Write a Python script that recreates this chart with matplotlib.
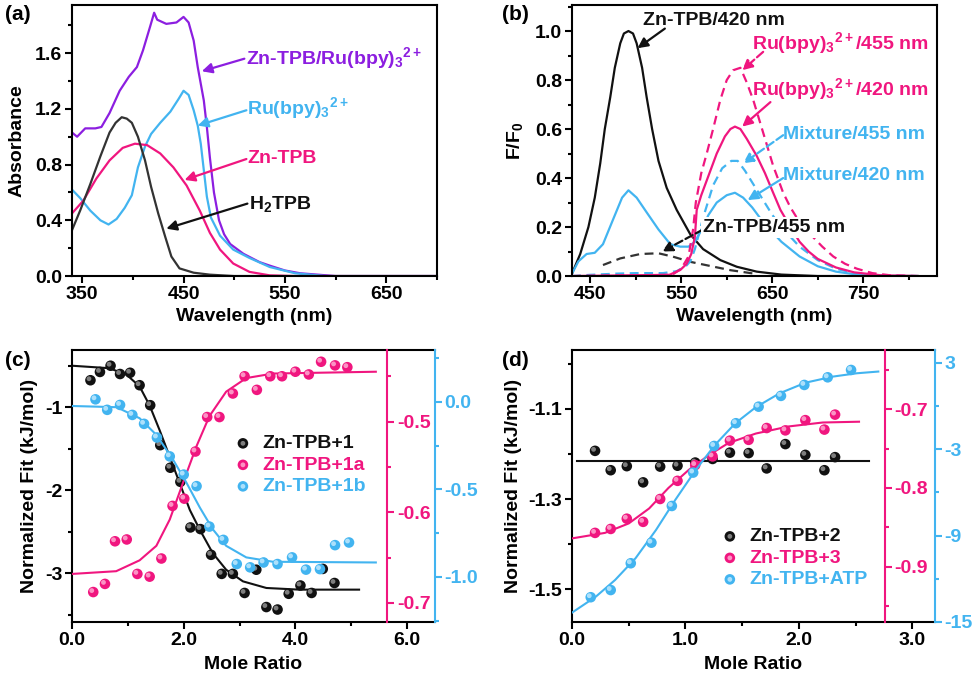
import matplotlib
matplotlib.use('Agg')
import matplotlib.pyplot as plt
import matplotlib.transforms as mtransforms
from matplotlib.ticker import MultipleLocator, FormatStrFormatter
from matplotlib.legend_handler import HandlerTuple

PINK = '#F0167F'
BLUE = '#42B4F0'
PURPLE = '#8C1EE0'
BLACK = '#111111'

# ---- (a) absorbance spectra
wl_h2tpb = [340, 348, 358, 368, 377, 383, 389, 394, 399, 405, 412, 418, 425, 432, 438, 446, 460, 476, 500, 700]
abs_h2tpb = [0.33, 0.47, 0.66, 0.86, 1.03, 1.10, 1.14, 1.13, 1.10, 1.00, 0.83, 0.64, 0.45, 0.28, 0.14, 0.055, 0.024, 0.01, 0.0, 0.0]
wl_zntpb = [340, 351, 364, 377, 390, 402, 414, 427, 440, 453, 466, 476, 486, 499, 515, 535, 560, 700]
abs_zntpb = [0.45, 0.54, 0.70, 0.83, 0.92, 0.95, 0.94, 0.88, 0.78, 0.65, 0.47, 0.31, 0.19, 0.09, 0.03, 0.005, 0.0, 0.0]
wl_ru = [340, 348, 358, 368, 376, 384, 392, 399, 405, 412, 418, 427, 437, 445, 450, 455, 460, 464, 467, 470, 473,
         477, 486, 499, 515, 535, 560, 590, 700]
abs_ru = [0.62, 0.56, 0.47, 0.40, 0.37, 0.41, 0.49, 0.58, 0.78, 0.93, 1.02, 1.10, 1.18, 1.27, 1.33, 1.30, 1.19, 1.08,
          0.95, 0.76, 0.57, 0.42, 0.29, 0.19, 0.13, 0.065, 0.02, 0.0, 0.0]
wl_mix = [340, 345, 353, 363, 369, 377, 387, 396, 404, 410, 417, 421, 424, 433, 443, 450, 455, 460, 464, 470, 473,
          476, 480, 485, 490, 496, 509, 525, 535, 550, 565, 600, 700]
abs_mix = [1.03, 1.00, 1.06, 1.06, 1.07, 1.17, 1.33, 1.43, 1.50, 1.62, 1.79, 1.89, 1.84, 1.81, 1.82, 1.86, 1.82, 1.69,
           1.50, 1.26, 1.07, 0.85, 0.60, 0.40, 0.30, 0.23, 0.16, 0.10, 0.075, 0.04, 0.02, 0.0, 0.0]

# ---- (b) emission spectra
wl_zn420 = [430, 439, 448, 455, 461, 466, 472, 477, 483, 487, 492, 497, 501, 507, 512, 518, 525, 534, 545, 560, 574,
            593, 611, 633, 660, 700, 810]
f_zn420 = [0.01, 0.09, 0.20, 0.32, 0.46, 0.60, 0.73, 0.85, 0.95, 0.99, 1.0, 0.99, 0.95, 0.85, 0.73, 0.60, 0.47, 0.36,
           0.27, 0.17, 0.11, 0.065, 0.038, 0.018, 0.006, 0.0, 0.0]
wl_zn455 = [464, 483, 505, 525, 541, 560, 582, 604, 630]
f_zn455 = [0.045, 0.072, 0.09, 0.093, 0.079, 0.058, 0.041, 0.024, 0.01]
wl_ru420 = [430, 537, 549, 556, 561, 565, 567, 572, 578, 589, 598, 604, 609, 615, 622, 633, 642, 651, 659, 670, 680,
            690, 700, 720, 740, 770, 810]
f_ru420 = [0.0, 0.005, 0.025, 0.05, 0.09, 0.16, 0.27, 0.33, 0.39, 0.50, 0.57, 0.60, 0.61, 0.60, 0.56, 0.49, 0.42, 0.34,
           0.27, 0.20, 0.14, 0.10, 0.07, 0.035, 0.015, 0.003, 0.0]
wl_ru455 = [430, 540, 550, 558, 563, 566, 572, 578, 585, 593, 600, 607, 615, 622, 629, 638, 651, 662, 670, 680, 692,
            705, 717, 730, 743, 760, 780, 810]
f_ru455 = [0.0, 0.005, 0.03, 0.08, 0.19, 0.30, 0.42, 0.50, 0.60, 0.72, 0.80, 0.84, 0.85, 0.79, 0.72, 0.61, 0.45, 0.34,
           0.28, 0.22, 0.17, 0.12, 0.08, 0.05, 0.03, 0.012, 0.003, 0.0]
wl_mix420 = [430, 437, 446, 455, 464, 475, 485, 492, 501, 512, 525, 538, 549, 558, 565, 571, 580, 589, 600, 609, 618,
             628, 640, 650, 660, 670, 680, 700, 720, 745, 780, 810]
f_mix420 = [0.01, 0.06, 0.09, 0.095, 0.13, 0.23, 0.32, 0.35, 0.32, 0.26, 0.19, 0.13, 0.12, 0.12, 0.14, 0.18, 0.25, 0.30,
            0.33, 0.34, 0.32, 0.28, 0.22, 0.18, 0.14, 0.11, 0.08, 0.04, 0.018, 0.005, 0.0, 0.0]
wl_mix455 = [430, 450, 480, 500, 530, 545, 555, 560, 565, 575, 585, 595, 605, 612, 620, 630, 640, 650, 660, 670, 680,
             700, 720, 740, 770, 810]
f_mix455 = [0.0, 0.005, 0.01, 0.012, 0.012, 0.02, 0.04, 0.06, 0.11, 0.25, 0.37, 0.44, 0.47, 0.47, 0.43, 0.37, 0.31,
            0.25, 0.20, 0.16, 0.12, 0.065, 0.03, 0.012, 0.003, 0.0]

# ---- (c) ITC, Zn-TPB + 1 / 1a / 1b
c1_x = [0.33, 0.50, 0.69, 0.86, 1.04, 1.21, 1.40, 1.58, 1.76, 1.94, 2.12, 2.30, 2.49, 2.68, 2.88, 3.09, 3.30, 3.48,
        3.68, 3.88, 4.09, 4.29, 4.49, 4.70]
c1_y = [-0.675, -0.575, -0.50, -0.60, -0.585, -0.735, -0.976, -1.458, -1.73, -1.90, -2.45, -2.47, -2.78, -3.01, -3.01,
        -3.24, -2.96, -3.41, -3.44, -3.25, -3.15, -3.24, -2.95, -3.12]
c1_fit_x = [0.0, 0.67, 0.98, 1.21, 1.39, 1.57, 1.75, 1.93, 2.11, 2.29, 2.52, 2.76, 3.06, 3.48, 4.07, 5.14]
c1_fit_y = [-0.50, -0.53, -0.61, -0.75, -0.98, -1.28, -1.60, -1.92, -2.24, -2.48, -2.76, -2.96, -3.10, -3.18, -3.20, -3.20]
c1a_x = [0.38, 0.59, 0.77, 0.98, 1.17, 1.39, 1.60, 1.80, 2.01, 2.21, 2.42, 2.64, 2.88, 3.09, 3.31, 3.55, 3.76, 4.00,
         4.24, 4.46, 4.71, 4.93]
c1a_y = [-0.688, -0.679, -0.632, -0.630, -0.668, -0.671, -0.651, -0.593, -0.585, -0.533, -0.495, -0.495, -0.469, -0.450,
         -0.465, -0.450, -0.450, -0.445, -0.448, -0.434, -0.438, -0.440]
c1a_fit_x = [0.0, 0.79, 1.21, 1.51, 1.75, 1.99, 2.23, 2.46, 2.76, 3.12, 3.60, 5.44]
c1a_fit_y = [-0.668, -0.665, -0.653, -0.637, -0.608, -0.567, -0.527, -0.494, -0.467, -0.452, -0.447, -0.445]
c1b_x = [0.42, 0.63, 0.86, 1.08, 1.29, 1.52, 1.75, 2.00, 2.23, 2.46, 2.71, 2.95, 3.19, 3.43, 3.68, 3.94, 4.19, 4.44,
         4.71, 4.96]
c1b_y = [0.015, -0.045, -0.017, -0.074, -0.125, -0.203, -0.311, -0.415, -0.481, -0.712, -0.788, -0.926, -0.945, -0.917,
         -0.926, -0.888, -0.958, -0.955, -0.818, -0.803]
c1b_fit_x = [0.0, 0.80, 1.21, 1.51, 1.81, 2.05, 2.29, 2.52, 2.76, 3.12, 3.60, 5.44]
c1b_fit_y = [-0.023, -0.03, -0.093, -0.188, -0.33, -0.462, -0.604, -0.727, -0.822, -0.888, -0.913, -0.917]

# ---- (d) ITC, Zn-TPB + 2 / 3 / ATP
d_x = [0.203, 0.341, 0.483, 0.627, 0.777, 0.930, 1.086, 1.239, 1.392, 1.557, 1.716, 1.881, 2.057, 2.225, 2.319]
d2_y = [-1.193, -1.236, -1.227, -1.263, -1.228, -1.226, -1.219, -1.211, -1.197, -1.198, -1.232, -1.178, -1.202,
        -1.236, -1.207]
d2_fit_x = [0.04, 2.615]
d2_fit_y = [-1.216, -1.216]
d3_y = [-0.857, -0.852, -0.839, -0.843, -0.814, -0.791, -0.771, -0.760, -0.740, -0.739, -0.724, -0.727, -0.714,
        -0.726, -0.707]
d3_fit_x = [0.0, 0.29, 0.50, 0.68, 0.85, 1.03, 1.21, 1.38, 1.62, 1.91, 2.21, 2.53]
d3_fit_y = [-0.864, -0.857, -0.845, -0.826, -0.800, -0.777, -0.758, -0.743, -0.731, -0.722, -0.717, -0.716]
datp_x = [0.165, 0.341, 0.518, 0.700, 0.880, 1.068, 1.253, 1.445, 1.645, 1.842, 2.048, 2.254, 2.460]
datp_y = [-13.28, -12.78, -10.92, -9.49, -6.94, -4.62, -2.77, -1.19, -0.04, 0.71, 1.47, 2.0, 2.51]
datp_fit_x = [0.0, 0.21, 0.38, 0.56, 0.74, 0.91, 1.09, 1.26, 1.44, 1.62, 1.83, 2.06, 2.30, 2.51, 2.70]
datp_fit_y = [-14.35, -13.24, -12.08, -10.57, -8.61, -6.52, -4.44, -2.70, -1.19, -0.08, 0.89, 1.63, 2.05, 2.28, 2.40]

RU = r'Ru(bpy)$_3$$^{\mathregular{2+}}$'

plt.rcParams.update({
    'font.family': ['Liberation Sans', 'DejaVu Sans'],
    'font.weight': 'bold',
    'axes.labelweight': 'bold',
    'font.size': 14,
    'axes.unicode_minus': False,
    'mathtext.fontset': 'custom',
    'mathtext.rm': 'Liberation Sans:bold',
    'mathtext.it': 'Liberation Sans:bold',
    'mathtext.bf': 'Liberation Sans:bold',
    'mathtext.default': 'rm',
})

fig = plt.figure(figsize=(9.8, 6.85), dpi=100)


def style(ax, color='black'):
    for s in ax.spines.values():
        s.set_linewidth(1.5)
    ax.tick_params(which='major', direction='out', length=5, width=1.5, labelsize=14, pad=2, colors=color)
    ax.tick_params(which='minor', direction='out', length=3, width=1.5, colors=color)


def arrow(ax, tail, tip, color, ls='-'):
    ax.annotate('', xy=tip, xytext=tail,
                arrowprops=dict(arrowstyle='-|>', color=color, lw=1.6, ls=ls,
                                shrinkA=0, shrinkB=0, mutation_scale=15))


def balls(ax, x, y, color, hi):
    base = ax.scatter(x, y, s=58, color=color, edgecolors='none', zorder=3)
    tr = mtransforms.offset_copy(ax.transData, fig=fig, x=-1.5, y=1.5, units='dots')
    high = ax.scatter(x, y, s=12, color=hi, edgecolors='none', alpha=0.8, transform=tr, zorder=4)
    return base, high


# ================= (a)
ax = fig.add_axes([0.0735, 0.597, 0.3724, 0.3956])
style(ax)
ax.plot(wl_mix, abs_mix, color=PURPLE, lw=1.6)
ax.plot(wl_ru, abs_ru, color=BLUE, lw=1.6)
ax.plot(wl_zntpb, abs_zntpb, color=PINK, lw=1.6)
ax.plot(wl_h2tpb, abs_h2tpb, color='#333333', lw=1.6)
ax.set_xlim(340, 700)
ax.set_ylim(0, 1.945)
ax.set_xticks([350, 450, 550, 650])
ax.xaxis.set_minor_locator(MultipleLocator(50))
ax.yaxis.set_major_locator(MultipleLocator(0.4))
ax.yaxis.set_minor_locator(MultipleLocator(0.2))
ax.yaxis.set_major_formatter(FormatStrFormatter('%.1f'))
ax.set_xlabel('Wavelength (nm)', labelpad=4)
ax.set_ylabel('Absorbance', labelpad=7)
ax.text(512, 1.52, 'Zn-TPB/' + RU, color=PURPLE, va='baseline')
arrow(ax, (510, 1.56), (468, 1.47), PURPLE)
ax.text(513, 1.16, RU, color=BLUE, va='baseline')
arrow(ax, (512, 1.19), (464, 1.08), BLUE)
ax.text(513, 0.81, 'Zn-TPB', color=PINK, va='baseline')
arrow(ax, (512, 0.84), (451, 0.69), PINK)
ax.text(515, 0.48, r'H$_2$TPB', color=BLACK, va='baseline')
arrow(ax, (513, 0.52), (433, 0.34), BLACK)

# ================= (b)
ax = fig.add_axes([0.5837, 0.597, 0.3724, 0.3956])
style(ax)
dash = (0, (4, 2.5))
ax.plot(wl_zn420, f_zn420, color=BLACK, lw=1.6)
ax.plot(wl_zn455, f_zn455, color='#333333', lw=1.6, ls=dash)
ax.plot(wl_mix420, f_mix420, color=BLUE, lw=1.6)
ax.plot(wl_mix455, f_mix455, color=BLUE, lw=1.6, ls=dash)
ax.plot(wl_ru420, f_ru420, color=PINK, lw=1.6)
ax.plot(wl_ru455, f_ru455, color=PINK, lw=1.6, ls=dash)
ax.set_xlim(430, 831)
ax.set_ylim(0, 1.106)
ax.set_xticks([450, 550, 650, 750])
ax.xaxis.set_minor_locator(MultipleLocator(50))
ax.yaxis.set_major_locator(MultipleLocator(0.2))
ax.yaxis.set_minor_locator(MultipleLocator(0.1))
ax.yaxis.set_major_formatter(FormatStrFormatter('%.1f'))
ax.set_xlabel('Wavelength (nm)', labelpad=4)
ax.set_ylabel(r'F/F$_0$', labelpad=7)
ax.text(586, 1.024, 'Zn-TPB/420 nm', color=BLACK, ha='center', va='baseline')
arrow(ax, (532, 1.01), (502, 0.93), BLACK)
ax.text(628, 0.926, RU + '/455 nm', color=PINK, va='baseline')
arrow(ax, (640, 0.915), (617, 0.84), PINK, ls='--')
ax.text(628, 0.74, RU + '/420 nm', color=PINK, va='baseline')
arrow(ax, (648, 0.71), (617, 0.61), PINK)
ax.text(662, 0.56, 'Mixture/455 nm', color=BLUE, va='baseline')
arrow(ax, (662, 0.575), (618, 0.46), BLUE, ls='--')
ax.text(662, 0.39, 'Mixture/420 nm', color=BLUE, va='baseline')
arrow(ax, (662, 0.40), (623, 0.31), BLUE)
ax.text(574, 0.18, 'Zn-TPB/455 nm', color=BLACK, va='baseline', zorder=5,
        bbox=dict(facecolor='white', edgecolor='none', pad=1.5))
arrow(ax, (574, 0.19), (529, 0.10), BLACK, ls='--')

# ================= (c)
ax = fig.add_axes([0.0735, 0.0920, 0.3704, 0.3971])
axp = ax.twinx()
axb = ax.twinx()
style(ax)
style(axp, PINK)
style(axb, BLUE)
ax.spines['right'].set_visible(False)
for t in (axp, axb):
    for side in ('left', 'top', 'bottom'):
        t.spines[side].set_visible(False)
axp.spines['right'].set_position(('axes', 0.868))
axp.spines['right'].set_color(PINK)
axb.spines['right'].set_color(BLUE)

ax.plot(c1_fit_x, c1_fit_y, color=BLACK, lw=1.5)
h1 = balls(ax, c1_x, c1_y, BLACK, '#9a9a9a')
axp.plot(c1a_fit_x, c1a_fit_y, color=PINK, lw=1.5)
h2 = balls(axp, c1a_x, c1a_y, PINK, '#ffb3d6')
axb.plot(c1b_fit_x, c1b_fit_y, color=BLUE, lw=1.5)
h3 = balls(axb, c1b_x, c1b_y, BLUE, '#c8ecff')

ax.set_xlim(0, 6.5)
ax.set_ylim(-3.59, -0.31)
axp.set_ylim(-0.721, -0.421)
axb.set_ylim(-1.257, 0.297)
ax.xaxis.set_major_locator(MultipleLocator(2))
ax.xaxis.set_minor_locator(MultipleLocator(1))
ax.xaxis.set_major_formatter(FormatStrFormatter('%.1f'))
ax.yaxis.set_major_locator(MultipleLocator(1))
ax.yaxis.set_minor_locator(MultipleLocator(0.5))
ax.yaxis.set_major_formatter(FormatStrFormatter('%d'))
axp.yaxis.set_major_locator(MultipleLocator(0.1))
axp.yaxis.set_minor_locator(MultipleLocator(0.05))
axp.yaxis.set_major_formatter(FormatStrFormatter('%.1f'))
axb.yaxis.set_major_locator(MultipleLocator(0.5))
axb.yaxis.set_minor_locator(MultipleLocator(0.25))
axb.yaxis.set_major_formatter(FormatStrFormatter('%.1f'))
ax.set_xlabel('Mole Ratio', labelpad=5)
ax.set_ylabel('Normalized Fit (kJ/mol)', labelpad=5)
axb.legend([h1, h2, h3], ['Zn-TPB+1', 'Zn-TPB+1a', 'Zn-TPB+1b'],
           handler_map={tuple: HandlerTuple(ndivide=1)}, labelcolor=[BLACK, PINK, BLUE],
           frameon=False, loc='upper left', bbox_to_anchor=(0.444, 0.688), borderaxespad=0, borderpad=0,
           handlelength=1.0, handletextpad=0.5, labelspacing=0.2, scatterpoints=1, fontsize=14)

# ================= (d)
ax = fig.add_axes([0.5837, 0.0920, 0.3704, 0.3971])
axp = ax.twinx()
axb = ax.twinx()
style(ax)
style(axp, PINK)
style(axb, BLUE)
ax.spines['right'].set_visible(False)
for t in (axp, axb):
    for side in ('left', 'top', 'bottom'):
        t.spines[side].set_visible(False)
axp.spines['right'].set_position(('axes', 0.862))
axp.spines['right'].set_color(PINK)
axb.spines['right'].set_color(BLUE)

ax.plot(d2_fit_x, d2_fit_y, color=BLACK, lw=1.5)
h1 = balls(ax, d_x, d2_y, BLACK, '#9a9a9a')
axp.plot(d3_fit_x, d3_fit_y, color=PINK, lw=1.5)
h2 = balls(axp, d_x, d3_y, PINK, '#ffb3d6')
axb.plot(datp_fit_x, datp_fit_y, color=BLUE, lw=1.5)
h3 = balls(axb, datp_x, datp_y, BLUE, '#c8ecff')

ax.set_xlim(0, 3.2)
ax.set_ylim(-1.573, -0.969)
axp.set_ylim(-0.97, -0.625)
axb.set_ylim(-15, 3.9)
ax.xaxis.set_major_locator(MultipleLocator(1))
ax.xaxis.set_minor_locator(MultipleLocator(0.5))
ax.xaxis.set_major_formatter(FormatStrFormatter('%.1f'))
ax.set_yticks([-1.5, -1.3, -1.1])
ax.yaxis.set_minor_locator(MultipleLocator(0.1))
ax.yaxis.set_major_formatter(FormatStrFormatter('%.1f'))
axp.set_yticks([-0.9, -0.8, -0.7])
axp.yaxis.set_minor_locator(MultipleLocator(0.05))
axp.yaxis.set_major_formatter(FormatStrFormatter('%.1f'))
axb.set_yticks([-15, -9, -3, 3])
axb.yaxis.set_minor_locator(MultipleLocator(3))
axb.yaxis.set_major_formatter(FormatStrFormatter('%d'))
ax.set_xlabel('Mole Ratio', labelpad=5)
ax.set_ylabel('Normalized Fit (kJ/mol)', labelpad=5)
axb.legend([h1, h2, h3], ['Zn-TPB+2', 'Zn-TPB+3', 'Zn-TPB+ATP'],
           handler_map={tuple: HandlerTuple(ndivide=1)}, labelcolor=[BLACK, PINK, BLUE],
           frameon=False, loc='upper left', bbox_to_anchor=(0.408, 0.346), borderaxespad=0, borderpad=0,
           handlelength=1.0, handletextpad=0.5, labelspacing=0.2, scatterpoints=1, fontsize=14)

# panel letters
for x, y, s in [(0.005, 0.992, '(a)'), (0.512, 0.992, '(b)'), (0.005, 0.488, '(c)'), (0.512, 0.488, '(d)')]:
    fig.text(x, y, s, fontsize=15, fontweight='bold', va='top')

fig.savefig('out.png', dpi=100)
